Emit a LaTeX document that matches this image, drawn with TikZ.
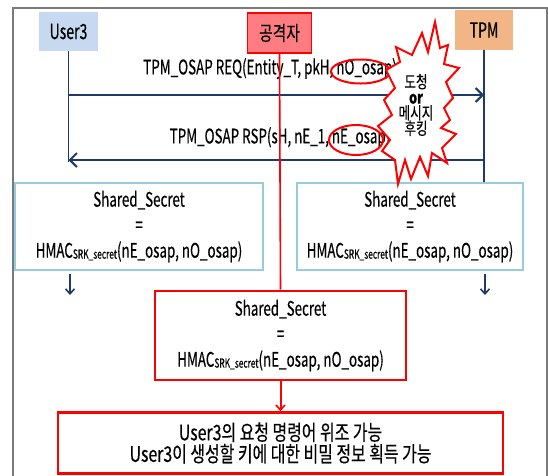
\documentclass[tikz,border=0pt]{standalone}
\usepackage{fontspec}
\setmainfont{Noto Sans CJK KR}[FakeStretch=0.67, FakeBold=0.3]
\newfontfamily\hangul{Noto Sans CJK KR}[FakeStretch=0.74, FakeBold=0.3]
\usetikzlibrary{arrows.meta,shapes.geometric}

\definecolor{navy}{HTML}{1F3A6A}
\definecolor{userfill}{HTML}{C6D9F1}
\definecolor{tpmfill}{HTML}{F1B586}
\definecolor{attfill}{HTML}{FF7C80}
\definecolor{aqua}{HTML}{96CDDE}
\definecolor{framegray}{HTML}{7A7A7A}
\definecolor{alert}{HTML}{FF0000}

\newcommand{\fsz}[2]{\fontsize{#1}{#2}\selectfont}
\newcommand{\hmacline}{HMAC\raisebox{-1pt}{\fsz{12.5}{13}SRK\_secret}(nE\_osap, nO\_osap)}

\tikzset{
  actor/.style={inner sep=0pt, text=black, font=\fsz{21}{22}},
  life/.style={line width=1.5pt, draw=navy},
  msg/.style={line width=2.6pt, draw=navy, -{Straight Barb[length=7pt,width=14pt,line width=2pt]}},
  downarrow/.style={line width=1.8pt, draw=navy, -{Straight Barb[length=5pt,width=9pt,line width=1.6pt]}},
  msglabel/.style={inner sep=0pt, font=\fsz{20}{22}},
  calcbox/.style={inner sep=0pt, align=center, font=\fsz{20}{25.5}},
  ring/.style={ellipse, draw=alert, line width=2pt, inner sep=0pt},
}

\begin{document}
\begin{tikzpicture}[x=1pt,y=-1pt]
\useasboundingbox (0,0) rectangle (548,475);

% outer frame (open at the bottom)
\draw[framegray, line width=1.4pt] (13,477) -- (13,8) -- (547,8) -- (547,477);

% participants
\node[actor, fill=userfill, minimum width=59, minimum height=39] (user) at (68.5,31.5) {User3};
\node[actor, fill=tpmfill, minimum width=58, minimum height=40] (tpm) at (484,30) {TPM};
\node[actor, fill=attfill, draw=alert, line width=1.2pt, minimum width=64, minimum height=40,
      font=\hangul\fsz{20}{21}] (att) at (279.5,33) {공격자};

% key computation boxes
\node[calcbox, draw=aqua, line width=2pt, minimum width=248, minimum height=87] (lbox) at (139,226.5)
  {Shared\_Secret\\=\\\hmacline};
\node[calcbox, draw=aqua, line width=2pt, minimum width=226, minimum height=87] (rbox) at (410,226.5)
  {Shared\_Secret\\=\\\hmacline};
\node[calcbox, draw=alert, line width=2.6pt, minimum width=251, minimum height=89] (mbox) at (280.5,335.5)
  {Shared\_Secret\\=\\\hmacline};
\node[calcbox, draw=alert, line width=2.6pt, minimum width=445, minimum height=61,
      font=\hangul\fsz{21.5}{21.5}] (result) at (280.5,443)
  {User3의 요청 명령어 위조 가능\\User3이 생성할 키에 대한 비밀 정보 획득 가능};

% message end points on the lifelines
\coordinate (reqL) at (68.5,95);
\coordinate (reqR) at (484,95);
\coordinate (rspR) at (484,160);
\coordinate (rspL) at (68.5,160);
\coordinate (uEnd) at (68.5,162);
\coordinate (lout) at (70,295);
\coordinate (rout) at (485,295);

% lifelines
\draw[life] (user.south) -- (uEnd);
\draw[life] (tpm.south) -- (tpm.south |- rbox.north);

% messages
\draw[msg] (reqL) -- (reqR);
\draw[msg] (rspR) -- (rspL);
\node[msglabel] (req) at (270,68.5) {TPM\_OSAP REQ(Entity\_T, pkH, nO\_osap)};
\node[msglabel] (rsp) at (280,137.5) {TPM\_OSAP RSP(sH, nE\_1, nE\_osap)};

% exposed nonces
\node[ring, minimum width=59, minimum height=24] (ringO) at (360.5,71.5) {};
\node[ring, minimum width=54, minimum height=30] (ringE) at (356,140) {};

% continuation arrows below the honest parties
\draw[downarrow, shorten <=3pt] (lbox.south -| lout) -- (lout);
\draw[downarrow, shorten <=3pt] (rbox.south -| rout) -- (rout);

% attacker lifeline and consequence
\draw[alert, line width=1.6pt] (att.south) -- (mbox.north);
\draw[alert, line width=2pt, -{Straight Barb[length=5pt,width=9pt,line width=1.6pt]}]
  (mbox.south) -- (result.north);

% eavesdropping / hooking burst
\draw[alert, line width=2pt, fill=white, line join=miter]
  (435,22) -- (440,48) -- (448,45) -- (444,64) -- (459,68) -- (446,82) -- (453,98)
  -- (444,108) -- (450,120) -- (441,128) -- (456,134) -- (442,148) -- (447,163)
  -- (432,153) -- (428,176) -- (420,157) -- (411,179) -- (405,160) -- (398,184)
  -- (395,160) -- (382,151) -- (390,140) -- (378,126) -- (392,115) -- (384,100)
  -- (395,88) -- (386,70) -- (400,62) -- (396,47) -- (412,55) -- (422,33)
  -- (428,52) -- cycle;
\node[inner sep=0pt, align=center, font=\hangul\fsz{17}{15.5}] (hook) at (416,105)
  {도청\\{\bfseries or}\\메시지\\후킹};
\end{tikzpicture}
\end{document}
